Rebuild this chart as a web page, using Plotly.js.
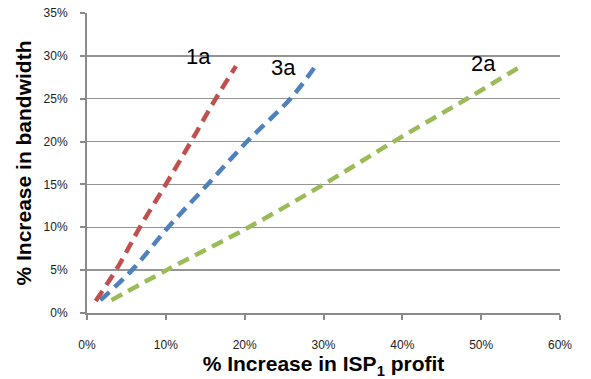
<!DOCTYPE html>
<html>
<head>
<meta charset="utf-8">
<script src="https://cdn.plot.ly/plotly-3.0.1.min.js"></script>
<style>html,body{margin:0;padding:0;background:#fff;}#chart{width:591px;height:379px;}</style>
</head>
<body>
<div id="chart"></div>
<script>
// Data (in %)
const x1a = [1.1, 4.0, 6.7, 10.0, 13.2, 16.2, 18.9];
const y1a = [1.4, 5.5, 10.0, 15.0, 20.0, 24.8, 28.8];
const x3a = [1.7, 5.7, 10.3, 15.3, 20.3, 25.8, 28.9];
const y3a = [1.5, 5.0, 10.0, 15.0, 20.0, 25.0, 28.7];
const x2a = [3.1, 10.1, 20.5, 30.0, 38.9, 48.2, 54.9];
const y2a = [1.5, 5.0, 10.0, 15.0, 20.0, 25.0, 28.7];
const seriesNames = ["1a", "3a", "2a"];
const seriesColors = ["#C0504D", "#4F81BD", "#9BBB59"];
const labelX = [14.1, 24.9, 50.3];
const labelY = [29.9, 28.7, 29.1];
const xTicks = [0, 10, 20, 30, 40, 50, 60];
const yTicks = [0, 5, 10, 15, 20, 25, 30, 35];

const font = "Liberation Sans, Arial, sans-serif";
const xs = [x1a, x3a, x2a], ys = [y1a, y3a, y2a];
const traces = xs.map((x, i) => ({
  x: x, y: ys[i], type: "scatter", mode: "lines", name: seriesNames[i],
  line: {color: seriesColors[i], width: 4.5, dash: "12px,7px", shape: "spline"},
  hoverinfo: "skip"
}));

const layout = {
  width: 591, height: 379,
  margin: {l: 87, r: 31, t: 13, b: 66},
  paper_bgcolor: "#fff", plot_bgcolor: "#fff",
  showlegend: false,
  font: {family: font, color: "#222", size: 12},
  xaxis: {
    range: [0, 60], tickvals: xTicks, ticktext: xTicks.map(v => v + "%"),
    showgrid: false, zeroline: false, showline: true, linecolor: "#8a8a8a", linewidth: 2,
    ticks: "outside", ticklen: 5, tickwidth: 2, tickcolor: "#8a8a8a",
    ticklabelstandoff: 15,
    tickfont: {size: 12, family: font, color: "#222"},
    title: {text: "% Increase in ISP<sub>1</sub> profit", font: {size: 21, family: font, color: "#000", weight: "bold"}, standoff: 2}
  },
  yaxis: {
    range: [0, 35], tickvals: yTicks, ticktext: yTicks.map(v => v + "%"),
    showgrid: true, gridcolor: "#959595", gridwidth: 1.5,
    zeroline: false, showline: true, linecolor: "#8a8a8a", linewidth: 2,
    ticks: "outside", ticklen: 5, tickwidth: 2, tickcolor: "#8a8a8a",
    ticklabelstandoff: 10,
    tickfont: {size: 12, family: font, color: "#222"},
    title: {text: "% Increase in bandwidth", font: {size: 21, family: font, color: "#000", weight: "bold"}, standoff: 6}
  },
  annotations: seriesNames.map((n, i) => ({
    x: labelX[i], y: labelY[i], xref: "x", yref: "y", text: n, showarrow: false,
    font: {size: 22, family: font, color: "#000"}
  }))
};

Plotly.newPlot("chart", traces, layout, {staticPlot: true, displayModeBar: false});
</script>
</body>
</html>
